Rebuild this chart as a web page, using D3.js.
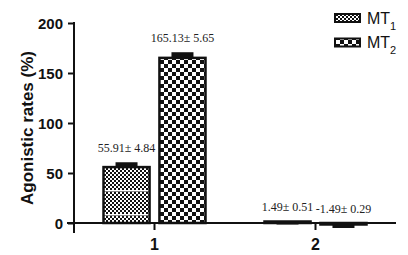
<!DOCTYPE html>
<html>
<head>
<meta charset="utf-8">
<script src="https://cdn.jsdelivr.net/npm/d3@7"></script>
<style>
    body { margin: 0; background: #fff; }
    svg { display: block; }
    .tick-label { font-family: "Liberation Sans", Arial, sans-serif; font-weight: bold; fill: #111; }
    .val-label { font-family: "Liberation Serif", "Times New Roman", serif; font-size: 12px; fill: #222; }
</style>
</head>
<body>
<div id="chart"></div>
<script>
// data
var categories = ['1', '2'];
var series = ['MT1', 'MT2'];
var means = [[55.91, 165.13], [1.49, -1.49]];   // [category][series]
var errors = [[4.84, 5.65], [0.51, 0.29]];
var yTicks = [0, 50, 100, 150, 200];

const width = 408;
const height = 255;

let margin = { top: 23, right: 12, bottom: 32, left: 74 };

var svg = d3.select("#chart")
    .append("svg")
    .attr("width", width)
    .attr("height", height);

var defs = svg.append("defs");

// fine checker pattern for MT1 (with white break lines)
var p1 = defs.append("pattern")
    .attr("id", "pat1")
    .attr("patternUnits", "userSpaceOnUse")
    .attr("width", 4)
    .attr("height", 24);
p1.append("rect").attr("width", 4).attr("height", 24).attr("fill", "#111");
for (let r = 0; r < 22; r += 2) {
    p1.append("rect")
        .attr("x", (r / 2) % 2 === 0 ? 0 : 2)
        .attr("y", r)
        .attr("width", 2).attr("height", 2)
        .attr("fill", "#fff");
}
p1.append("rect").attr("x", 0).attr("y", 22).attr("width", 4).attr("height", 1.5).attr("fill", "#fff");

// coarse checkerboard for MT2
var p2 = defs.append("pattern")
    .attr("id", "pat2")
    .attr("patternUnits", "userSpaceOnUse")
    .attr("width", 8)
    .attr("height", 8);
p2.append("rect").attr("width", 8).attr("height", 8).attr("fill", "#111");
p2.append("rect").attr("x", 0).attr("y", 0).attr("width", 4).attr("height", 4).attr("fill", "#fff");
p2.append("rect").attr("x", 4).attr("y", 4).attr("width", 4).attr("height", 4).attr("fill", "#fff");

var fills = ['url(#pat1)', 'url(#pat2)'];

var yScale = d3.scaleLinear()
    .domain([0, 200])
    .range([223, 23]);

var xScale = d3.scaleBand()
    .domain(categories)
    .range([margin.left, 396]);

var barWidth = 42;
var barGap = 18;
var xSub = d3.scaleBand()
    .domain(series)
    .range([0, barWidth * 2 + barGap])
    .paddingInner(barGap / (barWidth * 2 + barGap));

function groupLeft(c) {
    return xScale(c) + xScale.bandwidth() / 2 - (barWidth * 2 + barGap) / 2;
}

var rows = [];
categories.forEach(function(c, ci) {
    series.forEach(function(s, si) {
        rows.push({ cat: c, ser: s, si: si, mean: means[ci][si], err: errors[ci][si] });
    });
});

var plot = svg.append("g").attr("id", "plot");

// bars
plot.selectAll("rect.bar")
    .data(rows)
    .enter().append("rect")
    .attr("class", "bar")
    .attr("x", d => groupLeft(d.cat) + xSub(d.ser))
    .attr("width", xSub.bandwidth())
    .attr("y", d => yScale(Math.max(d.mean, 0)))
    .attr("height", d => Math.abs(yScale(d.mean) - yScale(0)))
    .attr("fill", d => fills[d.si])
    .attr("stroke", "#111")
    .attr("stroke-width", 2.5);

// error caps
var capW = 22;
plot.selectAll("rect.cap")
    .data(rows)
    .enter().append("rect")
    .attr("class", "cap")
    .attr("x", d => groupLeft(d.cat) + xSub(d.ser) + xSub.bandwidth() / 2 - capW / 2)
    .attr("width", capW)
    .attr("y", d => d.mean >= 0 ? yScale(d.mean + d.err) : yScale(d.mean))
    .attr("height", d => Math.max(yScale(0) - yScale(d.err), 3.5))
    .attr("fill", "#111");

// value labels
plot.selectAll("text.val-label")
    .data(rows)
    .enter().append("text")
    .attr("class", "val-label")
    .attr("x", d => groupLeft(d.cat) + xSub(d.ser) + xSub.bandwidth() / 2)
    .attr("y", d => yScale(Math.max(d.mean + d.err, 0)) - 10)
    .attr("text-anchor", "middle")
    .text(d => d.mean.toFixed(2) + "\u00b1 " + d.err.toFixed(2));

// y axis
var yAxis = d3.axisLeft(yScale)
    .tickValues(yTicks)
    .tickSize(6)
    .tickPadding(5);

var yGroup = svg.append("g")
    .attr("transform", "translate(" + margin.left + ",0)")
    .call(yAxis);
yGroup.select(".domain").remove();
yGroup.selectAll(".tick line").attr("stroke", "#111").attr("stroke-width", 2);
yGroup.selectAll(".tick text")
    .attr("class", "tick-label")
    .style("font-size", "15px")
    .attr("dy", "0.36em");

svg.append("line")
    .attr("x1", margin.left).attr("x2", margin.left)
    .attr("y1", yScale(200) - 1).attr("y2", 233)
    .attr("stroke", "#111").attr("stroke-width", 2);

// x axis
svg.append("line")
    .attr("x1", 67).attr("x2", 396)
    .attr("y1", yScale(0)).attr("y2", yScale(0))
    .attr("stroke", "#111").attr("stroke-width", 2);

var xAxis = d3.axisBottom(xScale)
    .tickSize(7)
    .tickPadding(9);

var xGroup = svg.append("g")
    .attr("transform", "translate(0," + yScale(0) + ")")
    .call(xAxis);
xGroup.select(".domain").remove();
xGroup.selectAll(".tick line").attr("stroke", "#111").attr("stroke-width", 2);
xGroup.selectAll(".tick text")
    .attr("class", "tick-label")
    .style("font-size", "16px");

// y label
svg.append("text")
    .attr("class", "tick-label")
    .attr("transform", "translate(33,128) rotate(-90)")
    .attr("text-anchor", "middle")
    .style("font-size", "17px")
    .text("Agonistic rates (%)");

// legend
var legend = svg.append("g").attr("id", "legend");
series.forEach(function(s, i) {
    var ly = 13 + i * 24.5;
    legend.append("rect")
        .attr("x", 335).attr("y", ly + 1)
        .attr("width", 25).attr("height", 8)
        .attr("fill", fills[i])
        .attr("stroke", "#111").attr("stroke-width", 2);
    var t = legend.append("text")
        .attr("x", 367).attr("y", ly + 10.5)
        .style("font-family", "'Liberation Sans', Arial, sans-serif")
        .style("font-size", "16px")
        .attr("fill", "#111")
        .text("MT");
    t.append("tspan")
        .attr("dy", 6)
        .style("font-size", "11px")
        .text(String(i + 1));
});
</script>
</body>
</html>
